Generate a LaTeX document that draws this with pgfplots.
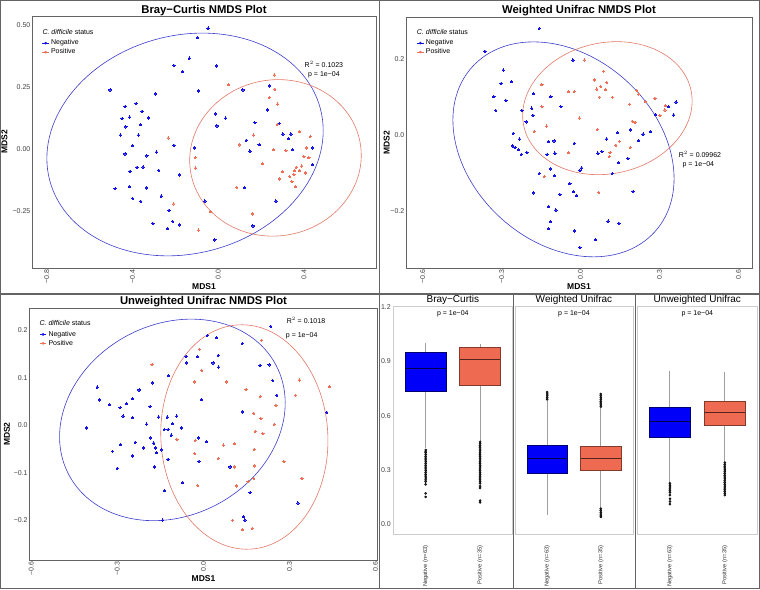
\documentclass[border=0pt]{standalone}
\usepackage{fontspec}
\setmainfont{Liberation Sans}
\usepackage{pgfplots}
\pgfplotsset{compat=1.18}
\usepgfplotslibrary{statistics}

\definecolor{negc}{RGB}{20,20,225}
\definecolor{posc}{RGB}{236,112,88}
\definecolor{boxneg}{RGB}{0,0,250}
\definecolor{boxpos}{RGB}{238,106,80}
\definecolor{negell}{RGB}{60,60,205}
\definecolor{posell}{RGB}{226,120,104}
\definecolor{frm}{RGB}{100,100,100}

\newcommand{\tfs}{\fontsize{7}{8}\selectfont}

\pgfplotsset{
  nmds/.style={
    scale only axis, anchor=south west,
    axis line style={frm, line width=0.9pt},
    major tick length=0pt,
    tick label style={font=\tfs, text=black!75, inner sep=1.5pt},
    xticklabel style={rotate=90, anchor=east},
    xlabel={MDS1}, ylabel={MDS2},
    label style={font=\bfseries\fontsize{8.5}{10}\selectfont},
    xlabel style={at={(axis description cs:0.5,0)}, anchor=base, yshift=-22pt},
    ylabel style={at={(axis description cs:0,0.5)}, anchor=center},
    title style={at={(axis description cs:0.5,1)}, anchor=base, font=\bfseries\fontsize{11.3}{13}\selectfont},
    legend style={draw=none, fill=none, inner sep=0pt, anchor=north west,
      font=\tfs, row sep=-1.6pt, cells={anchor=west}},
  },
  negpts/.style={color=negc, only marks, mark=*, mark size=1.2pt, mark options={draw=negc, fill=negc, line width=0pt},
    legend image code/.code={\draw[negc, line width=0.5pt] (0pt,0pt) -- (6.4pt,0pt); \fill[negc] (3.2pt,0pt) circle (1.1pt);}},
  pospts/.style={color=posc, only marks, mark=*, mark size=1.1pt, mark options={draw=posc, fill=posc, line width=0pt},
    legend image code/.code={\draw[posc, line width=0.5pt] (0pt,0pt) -- (6.4pt,0pt); \fill[posc] (3.2pt,0pt) circle (1.1pt);}},
  facet/.style={
    scale only axis, anchor=south west, height=228pt,
    xmin=0.4, xmax=2.6, ymin=-0.055, ymax=1.207,
    axis line style={gray!40, line width=0.8pt},
    major tick length=0pt,
    xtick={1,2}, xticklabels={Negative (n=63), Positive (n=35)},
    xticklabel style={rotate=90, anchor=east, font=\fontsize{5.8}{7}\selectfont, text=black!80},
    xticklabel shift=8pt,
    ytick={0,0.3,0.6,0.9,1.2}, yticklabels={},
    yticklabel style={font=\tfs, text=black!75, inner sep=2pt},
    title style={at={(axis description cs:0.5,1)}, anchor=base, yshift=-2.3pt, font=\fontsize{10}{12}\selectfont},
    boxplot/draw direction=y,
    boxplot/box extend=0.75, boxplot/whisker extend=0,
  },
  bxneg/.style={black, mark=*, mark size=1.1pt, mark options={fill=black!80, draw=none},
    boxplot/every box/.style={fill=boxneg, draw=boxneg!45!black, line width=0.6pt},
    boxplot/every median/.style={draw=boxneg!30!black, line width=1.1pt},
    boxplot/every whisker/.style={draw=gray!75, line width=0.9pt}},
  bxpos/.style={black, mark=*, mark size=1.1pt, mark options={fill=black!80, draw=none},
    boxplot/every box/.style={fill=boxpos, draw=boxpos!55!black, line width=0.6pt},
    boxplot/every median/.style={draw=boxpos!35!black, line width=1.1pt},
    boxplot/every whisker/.style={draw=gray!75, line width=0.9pt}},
}

\begin{document}
\begin{tikzpicture}
\useasboundingbox (0pt,0pt) rectangle (760pt,589pt);

% ---------------- Bray-Curtis NMDS
\begin{axis}[nmds, at={(32pt,321pt)}, width=344pt, height=252pt,
  xmin=-0.869, xmax=0.736, ymin=-0.480, ymax=0.536,
  xtick={-0.8,-0.4,0,0.4}, xticklabels={−0.8,−0.4,0.0,0.4},
  ytick={-0.25,0,0.25,0.5}, yticklabels={−0.25,0.00,0.25,0.50},
  ylabel style={yshift=27.5pt},
  title={Bray−Curtis NMDS Plot}, title style={yshift=-4pt},
  legend style={at={(rel axis cs:0.029,0.914)}}]
\addplot[negpts] coordinates {
(-0.047,0.487) (-0.098,0.449) (-0.135,0.366) (-0.207,0.337) (-0.166,0.312) (-0.009,0.335)
(-0.505,0.238) (-0.292,0.222) (-0.092,0.234) (0.115,0.238) (-0.435,0.171) (-0.383,0.184)
(-0.355,0.152) (-0.449,0.122) (-0.414,0.128) (-0.325,0.125) (-0.431,0.089) (-0.362,0.098)
(-0.456,0.056) (-0.372,0.056) (-0.014,0.141) (0.034,0.124) (-0.006,0.093) (0.238,0.254)
(0.230,0.157) (0.171,0.106) (0.285,0.103) (-0.400,0.013) (-0.435,-0.020) (-0.207,0.015)
(-0.112,0.004) (-0.333,-0.028) (-0.288,-0.013) (0.131,0.035) (0.191,0.017) (0.148,-0.009)
(0.302,0.060) (0.339,0.060) (0.328,0.042) (0.347,-0.003) (0.439,0.004) (0.440,-0.063)
(-0.411,-0.090) (-0.379,-0.074) (-0.351,-0.073) (-0.278,-0.086) (-0.182,-0.105) (-0.481,-0.160)
(-0.414,-0.152) (-0.336,-0.157) (-0.400,-0.199) (-0.362,-0.211) (-0.266,-0.190) (-0.062,-0.210)
(0.123,-0.156) (0.269,-0.210) (-0.229,-0.247) (-0.213,-0.292) (-0.182,-0.306) (-0.305,-0.300)
(-0.236,-0.321) (-0.016,-0.367) (0.162,-0.310)};
\addlegendentry{Negative}
\addplot[pospts] coordinates {
(0.261,0.298) (0.048,0.259) (0.264,0.241) (0.238,0.208) (0.277,0.181) (0.275,0.099)
(0.165,0.056) (-0.233,0.044) (0.101,0.016) (-0.107,-0.034) (-0.106,-0.077) (0.257,-0.003)
(0.316,-0.007) (0.378,0.069) (0.429,0.050) (0.412,0.004) (0.400,-0.031) (0.423,-0.036)
(0.205,-0.060) (0.300,-0.091) (0.285,-0.121) (0.364,-0.074) (0.356,-0.087) (0.353,-0.103)
(0.390,-0.069) (0.407,-0.097) (0.344,-0.132) (0.361,-0.153) (0.086,-0.155) (-0.207,-0.222)
(-0.036,-0.253) (0.160,-0.262) (-0.093,-0.327) (0.334,-0.112) (0.379,-0.087)};
\addlegendentry{Positive}
\draw[negell, line width=0.6pt, rotate around={15:(axis cs:-0.155,0.018)}]
  (axis cs:-0.155,0.018) ellipse [x radius=140pt, y radius=109pt];
\draw[posell, line width=0.6pt, rotate around={10:(axis cs:0.267,-0.036)}]
  (axis cs:0.267,-0.036) ellipse [x radius=86pt, y radius=78pt];
\node[font=\tfs, anchor=base west, inner sep=0pt] at (rel axis cs:0.030,0.925) {\textit{C. difficile} status};
\node[font=\tfs, anchor=base, inner sep=0pt] at (axis cs:0.493,0.328) {R$^2$ = 0.1023};
\node[font=\tfs, anchor=base, inner sep=0pt] at (axis cs:0.493,0.292) {p = 1e−04};
\end{axis}

% ---------------- Weighted Unifrac NMDS
\begin{axis}[nmds, at={(406pt,321pt)}, width=346pt, height=251pt,
  xmin=-0.664, xmax=0.652, ymin=-0.348, ymax=0.310,
  xtick={-0.6,-0.3,0,0.3,0.6}, xticklabels={−0.6,−0.3,0.0,0.3,0.6},
  ytick={-0.2,0,0.2}, yticklabels={−0.2,0.0,0.2},
  ylabel style={yshift=19.3pt},
  title={Weighted Unifrac NMDS Plot}, title style={yshift=-3pt},
  legend style={at={(rel axis cs:0.031,0.918)}}]
\addplot[negpts] coordinates {
(-0.157,0.280) (-0.364,0.220) (-0.029,0.197) (-0.294,0.171) (-0.302,0.136) (-0.263,0.141)
(-0.330,0.101) (-0.284,0.091) (-0.323,0.065) (-0.179,0.109) (-0.113,0.101) (-0.186,0.071)
(-0.223,0.065) (-0.181,0.052) (-0.207,0.035) (-0.075,0.075) (-0.256,0.005) (-0.232,-0.010)
(-0.260,-0.028) (-0.249,-0.032) (-0.236,-0.038) (-0.225,-0.050) (-0.204,-0.045) (-0.123,-0.017)
(-0.101,-0.015) (-0.127,-0.050) (-0.098,-0.047) (-0.024,-0.021) (0.099,-0.010) (0.141,0.007)
(0.189,0.014) (0.221,-0.014) (0.238,0.003) (0.266,0.010) (0.284,0.054) (0.335,0.075)
(0.363,0.087) (0.354,0.053) (0.066,-0.047) (0.081,-0.043) (0.145,-0.072) (0.121,-0.100)
(0.180,-0.061) (-0.003,-0.092) (0.004,-0.086) (-0.157,-0.100) (-0.100,-0.106) (-0.114,-0.088)
(-0.178,-0.151) (-0.041,-0.127) (-0.027,-0.148) (-0.015,-0.158) (-0.079,-0.155) (-0.121,-0.187)
(-0.094,-0.196) (-0.114,-0.226) (-0.122,-0.245) (-0.023,-0.251) (-0.003,-0.294) (0.056,-0.274)
(0.105,-0.225) (0.146,-0.231) (0.200,-0.147)};
\addlegendentry{Negative}
\addplot[pospts] coordinates {
(0.014,0.197) (-0.147,0.132) (-0.046,0.114) (-0.024,0.115) (0.052,0.145) (0.088,0.168)
(0.062,0.121) (0.076,0.128) (0.096,0.119) (0.100,0.138) (0.071,0.100) (0.121,0.100)
(0.214,0.117) (0.221,0.108) (0.247,0.088) (0.283,0.097) (0.186,0.081) (0.302,0.052)
(0.321,0.066) (0.322,0.077) (-0.147,0.075) (-0.129,0.024) (-0.176,0.010) (-0.005,0.045)
(0.063,0.015) (-0.046,-0.046) (0.069,-0.150) (-0.138,-0.108) (0.109,-0.056) (0.112,-0.045)
(0.134,-0.026) (0.148,-0.016) (0.189,-0.032) (0.197,0.037) (0.207,0.034)};
\addlegendentry{Positive}
\draw[negell, line width=0.6pt, rotate around={-42:(axis cs:-0.065,-0.037)}]
  (axis cs:-0.065,-0.037) ellipse [x radius=123pt, y radius=93pt];
\draw[posell, line width=0.6pt, rotate around={12:(axis cs:0.102,0.071)}]
  (axis cs:0.102,0.071) ellipse [x radius=85.5pt, y radius=65.5pt];
\node[font=\tfs, anchor=base west, inner sep=0pt] at (rel axis cs:0.031,0.932) {\textit{C. difficile} status};
\node[font=\tfs, anchor=base, inner sep=0pt] at (axis cs:0.454,-0.059) {R$^2$ = 0.09962};
\node[font=\tfs, anchor=base, inner sep=0pt] at (axis cs:0.448,-0.082) {p = 1e−04};
\end{axis}

% ---------------- Unweighted Unifrac NMDS
\begin{axis}[nmds, at={(29.3pt,29pt)}, width=348.4pt, height=251.7pt,
  xmin=-0.607, xmax=0.608, ymin=-0.284, ymax=0.246,
  xtick={-0.6,-0.3,0,0.3,0.6}, xticklabels={−0.6,−0.3,0.0,0.3,0.6},
  ytick={-0.2,-0.1,0,0.1,0.2}, yticklabels={−0.2,−0.1,0.0,0.1,0.2},
  ylabel style={yshift=22.3pt},
  title={Unweighted Unifrac NMDS Plot}, title style={yshift=-2pt},
  legend style={at={(rel axis cs:0.029,0.918)}}]
\addplot[negpts] coordinates {
(0.235,0.208) (0.014,0.189) (0.045,0.184) (0.136,0.172) (-0.060,0.145) (-0.020,0.144)
(0.052,0.147) (0.034,0.131) (0.053,0.122) (-0.058,0.131) (0.198,0.126) (0.229,0.127)
(-0.122,0.104) (-0.177,0.089) (0.242,0.094) (-0.370,0.080) (-0.363,0.053) (-0.328,0.043)
(-0.290,0.037) (-0.269,0.045) (-0.247,0.056) (-0.224,0.074) (-0.186,0.039) (-0.006,0.054)
(0.256,0.063) (-0.280,0.019) (-0.247,0.016) (-0.198,0.002) (-0.156,0.017) (-0.126,0.017)
(-0.093,0.019) (-0.107,0.003) (-0.076,-0.006) (-0.136,-0.009) (-0.123,-0.009) (-0.112,-0.021)
(-0.407,-0.006) (-0.185,-0.027) (-0.173,-0.038) (-0.167,-0.048) (-0.164,-0.058) (-0.147,-0.052)
(-0.237,-0.036) (-0.209,-0.048) (-0.317,-0.055) (-0.288,-0.041) (-0.247,-0.065) (-0.300,-0.091)
(-0.016,-0.027) (0.012,-0.035) (-0.015,-0.076) (-0.123,-0.072) (-0.170,-0.088) (-0.073,-0.121)
(0.093,-0.088) (0.136,0.028) (0.163,-0.142) (-0.136,-0.138) (-0.142,-0.200) (0.141,-0.193)
(0.145,-0.200) (0.330,-0.164) (0.430,0.027)};
\addlegendentry{Negative}
\addplot[pospts] coordinates {
(-0.179,0.128) (-0.014,0.160) (0.203,0.179) (-0.006,0.115) (-0.031,0.091) (0.080,0.091)
(0.149,0.075) (0.335,0.095) (0.440,0.081) (0.198,0.060) (0.321,0.063) (0.253,0.042)
(0.176,0.025) (0.201,0.014) (0.181,-0.013) (0.208,-0.018) (0.247,0.002) (-0.092,-0.030)
(-0.028,-0.032) (0.070,-0.042) (0.108,-0.039) (-0.030,-0.060) (0.052,-0.070) (0.177,-0.051)
(0.109,-0.088) (0.177,-0.086) (0.281,-0.077) (0.176,-0.112) (0.115,-0.128) (0.156,-0.119)
(-0.020,-0.127) (0.344,-0.112) (0.102,-0.200) (0.136,-0.220) (0.170,-0.218)};
\addlegendentry{Positive}
\draw[negell, line width=0.6pt, rotate around={28:(axis cs:-0.108,0.011)}]
  (axis cs:-0.108,0.011) ellipse [x radius=117.2pt, y radius=95.6pt];
\draw[posell, line width=0.6pt, rotate around={3:(axis cs:0.143,-0.025)}]
  (axis cs:0.143,-0.025) ellipse [x radius=83.5pt, y radius=112.3pt];
\node[font=\tfs, anchor=base west, inner sep=0pt] at (rel axis cs:0.029,0.931) {\textit{C. difficile} status};
\node[font=\tfs, anchor=base, inner sep=0pt] at (axis cs:0.358,0.215) {R$^2$ = 0.1018};
\node[font=\tfs, anchor=base, inner sep=0pt] at (axis cs:0.343,0.185) {p = 1e−04};
\end{axis}

% ---------------- Boxplots: Bray-Curtis
\begin{axis}[facet, at={(393pt,55pt)}, width=119.7pt,
  yticklabels={0.0,0.3,0.6,0.9,1.2}, title={Bray−Curtis}]
\addplot[bxneg, boxplot prepared={draw position=1, lower whisker=0.42, lower quartile=0.735,
  median=0.861, upper quartile=0.949, upper whisker=1.0}]
  table[row sep=\\, y index=0] {v\\ 0.41\\ 0.40\\ 0.395\\ 0.385\\ 0.375\\ 0.365\\ 0.355\\ 0.345\\
  0.335\\ 0.325\\ 0.315\\ 0.305\\ 0.295\\ 0.285\\ 0.275\\ 0.265\\ 0.255\\ 0.245\\ 0.235\\ 0.22\\
  0.17\\ 0.15\\};
\addplot[bxpos, boxplot prepared={draw position=2, lower whisker=0.46, lower quartile=0.770,
  median=0.911, upper quartile=0.979, upper whisker=0.997}]
  table[row sep=\\, y index=0] {v\\ 0.455\\ 0.445\\ 0.435\\ 0.425\\ 0.415\\ 0.405\\ 0.395\\ 0.385\\
  0.375\\ 0.365\\ 0.355\\ 0.345\\ 0.335\\ 0.325\\ 0.315\\ 0.305\\ 0.295\\ 0.285\\ 0.275\\ 0.265\\
  0.255\\ 0.245\\ 0.235\\ 0.225\\ 0.21\\ 0.20\\ 0.13\\ 0.12\\};
\node[font=\tfs, anchor=base, inner sep=0pt] at (rel axis cs:0.5,1) [yshift=-9.7pt] {p = 1e−04};
\end{axis}

% ---------------- Boxplots: Weighted Unifrac
\begin{axis}[facet, at={(515pt,55pt)}, width=118pt, title={Weighted Unifrac}]
\addplot[bxneg, boxplot prepared={draw position=1, lower whisker=0.048, lower quartile=0.282,
  median=0.361, upper quartile=0.435, upper whisker=0.68}]
  table[row sep=\\, y index=0] {v\\ 0.69\\ 0.70\\ 0.71\\ 0.72\\ 0.73\\};
\addplot[bxpos, boxplot prepared={draw position=2, lower whisker=0.09, lower quartile=0.295,
  median=0.365, upper quartile=0.433, upper whisker=0.64}]
  table[row sep=\\, y index=0] {v\\ 0.65\\ 0.66\\ 0.67\\ 0.68\\ 0.69\\ 0.70\\ 0.71\\ 0.72\\
  0.085\\ 0.075\\ 0.065\\ 0.055\\ 0.045\\ 0.04\\};
\node[font=\tfs, anchor=base, inner sep=0pt] at (rel axis cs:0.5,1) [yshift=-9.7pt] {p = 1e−04};
\end{axis}

% ---------------- Boxplots: Unweighted Unifrac
\begin{axis}[facet, at={(637pt,55pt)}, width=120.7pt, title={Unweighted Unifrac}]
\addplot[bxneg, boxplot prepared={draw position=1, lower whisker=0.23, lower quartile=0.479,
  median=0.568, upper quartile=0.645, upper whisker=0.848}]
  table[row sep=\\, y index=0] {v\\ 0.225\\ 0.215\\ 0.205\\ 0.195\\ 0.185\\ 0.175\\ 0.16\\ 0.14\\
  0.125\\ 0.11\\};
\addplot[bxpos, boxplot prepared={draw position=2, lower whisker=0.345, lower quartile=0.546,
  median=0.618, upper quartile=0.680, upper whisker=0.844}]
  table[row sep=\\, y index=0] {v\\ 0.34\\ 0.33\\ 0.32\\ 0.31\\ 0.30\\ 0.29\\ 0.28\\ 0.27\\ 0.26\\
  0.25\\ 0.24\\ 0.23\\ 0.22\\ 0.21\\ 0.20\\ 0.19\\ 0.18\\ 0.17\\ 0.16\\};
\node[font=\tfs, anchor=base, inner sep=0pt] at (rel axis cs:0.5,1) [yshift=-9.7pt] {p = 1e−04};
\end{axis}

% ---------------- panel frames
\draw[frm, line width=1.3pt] (0.65pt,0.65pt) rectangle (759.35pt,588.35pt);
\draw[frm, line width=1.3pt] (379.5pt,0pt) -- (379.5pt,589pt);
\draw[frm, line width=1.3pt] (0pt,295pt) -- (760pt,295pt);
\draw[frm, line width=1.1pt] (513.6pt,0pt) -- (513.6pt,295pt);
\draw[frm, line width=1.1pt] (635.2pt,0pt) -- (635.2pt,295pt);
\end{tikzpicture}
\end{document}
